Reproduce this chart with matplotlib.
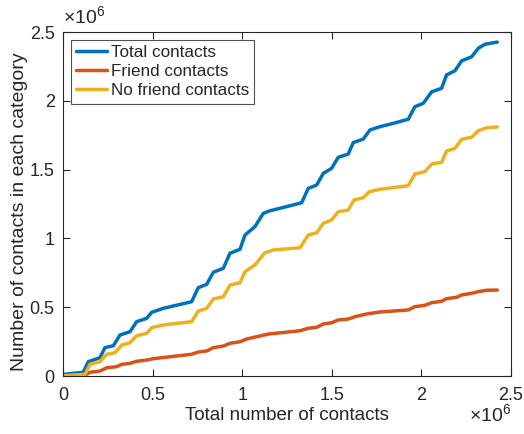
import numpy as np
import matplotlib
matplotlib.use("Agg")
import matplotlib.pyplot as plt
from matplotlib.ticker import FuncFormatter

plt.rcParams['font.family'] = ['Liberation Sans', 'DejaVu Sans']
plt.rcParams['mathtext.fontset'] = 'custom'
plt.rcParams['mathtext.rm'] = 'Liberation Sans'

# values in millions of contacts
total_x = [0.002, 0.113, 0.141, 0.206, 0.234, 0.281, 0.318, 0.374, 0.411, 0.467,
           0.495, 0.560, 0.616, 0.718, 0.755, 0.802, 0.839, 0.895, 0.932, 0.988,
           1.016, 1.071, 1.118, 1.155, 1.211, 1.332, 1.369, 1.416, 1.453, 1.499,
           1.536, 1.592, 1.620, 1.676, 1.713, 1.769, 1.843, 1.927, 1.964, 2.011,
           2.058, 2.113, 2.141, 2.188, 2.225, 2.281, 2.318, 2.355, 2.424]
total_y = [0.012, 0.027, 0.104, 0.133, 0.206, 0.220, 0.298, 0.322, 0.395, 0.419,
           0.463, 0.492, 0.509, 0.540, 0.642, 0.666, 0.754, 0.783, 0.892, 0.921,
           1.025, 1.085, 1.182, 1.201, 1.219, 1.259, 1.364, 1.388, 1.473, 1.509,
           1.589, 1.613, 1.696, 1.722, 1.788, 1.812, 1.836, 1.866, 1.957, 1.982,
           2.066, 2.091, 2.188, 2.219, 2.291, 2.320, 2.382, 2.411, 2.427]

friend_x = [0.002, 0.123, 0.151, 0.206, 0.244, 0.300, 0.328, 0.374, 0.411, 0.467,
            0.504, 0.718, 0.755, 0.802, 0.839, 0.895, 0.932, 0.988, 1.025, 1.099,
            1.146, 1.323, 1.369, 1.416, 1.453, 1.499, 1.536, 1.592, 1.629, 1.695,
            1.769, 1.927, 1.964, 2.020, 2.058, 2.113, 2.141, 2.197, 2.225, 2.281,
            2.318, 2.364, 2.424]
friend_y = [0.002, 0.007, 0.027, 0.036, 0.060, 0.068, 0.085, 0.092, 0.107, 0.116,
            0.126, 0.158, 0.174, 0.182, 0.206, 0.218, 0.238, 0.249, 0.269, 0.291,
            0.305, 0.329, 0.347, 0.354, 0.378, 0.387, 0.407, 0.414, 0.431, 0.451,
            0.465, 0.480, 0.504, 0.514, 0.533, 0.543, 0.562, 0.572, 0.589, 0.601,
            0.613, 0.623, 0.625]

nofriend_x = [0.002, 0.123, 0.151, 0.206, 0.244, 0.290, 0.328, 0.374, 0.411, 0.467,
              0.495, 0.560, 0.718, 0.755, 0.802, 0.839, 0.895, 0.932, 0.988, 1.016,
              1.071, 1.127, 1.174, 1.323, 1.369, 1.416, 1.453, 1.499, 1.536, 1.592,
              1.624, 1.676, 1.709, 1.769, 1.927, 1.964, 2.020, 2.058, 2.113, 2.141,
              2.188, 2.225, 2.281, 2.318, 2.364, 2.424]
nofriend_y = [0.002, 0.012, 0.085, 0.104, 0.158, 0.169, 0.225, 0.242, 0.293, 0.310,
              0.351, 0.371, 0.395, 0.472, 0.492, 0.560, 0.576, 0.661, 0.678, 0.758,
              0.807, 0.896, 0.916, 0.932, 1.025, 1.041, 1.110, 1.134, 1.194, 1.206,
              1.279, 1.296, 1.339, 1.357, 1.383, 1.468, 1.485, 1.541, 1.553, 1.635,
              1.655, 1.720, 1.735, 1.783, 1.804, 1.810]

labels = ['Total contacts', 'Friend contacts', 'No friend contacts']
colors = ['#0072BD', '#D95319', '#EDB120']

fig = plt.figure(figsize=(5.24, 4.34), dpi=100)
ax = fig.add_axes([0.1202, 0.1336, 0.8548, 0.7926])

series = [(total_x, total_y), (friend_x, friend_y), (nofriend_x, nofriend_y)]
for (xs, ys), lab, c in zip(series, labels, colors):
    ax.plot(np.array(xs) * 1e6, np.array(ys) * 1e6, color=c, lw=2.5,
            label=lab, solid_joinstyle='round', solid_capstyle='round')

ax.set_xlim(0, 2.5e6)
ax.set_ylim(0, 2.5e6)
ticks = np.arange(0, 2.51e6, 0.5e6)
ax.set_xticks(ticks)
ax.set_yticks(ticks)
fmt = FuncFormatter(lambda v, p: '%g' % (v / 1e6))
ax.xaxis.set_major_formatter(fmt)
ax.yaxis.set_major_formatter(fmt)

axcol = '#262626'
for s in ax.spines.values():
    s.set_color(axcol)
    s.set_linewidth(0.8)
ax.tick_params(direction='in', length=5, width=0.8, colors=axcol,
               labelsize=13, top=True, right=True)
ax.tick_params(axis='x', pad=8)
ax.tick_params(axis='y', pad=6)

ax.set_xlabel('Total number of contacts', fontsize=13.5, color=axcol, labelpad=2)
ax.set_ylabel('Number of contacts in each category', fontsize=14, color=axcol)
ax.yaxis.set_label_coords(-0.078, 0.477)

ax.text(0.0, 1.01, r'$\times10^{6}$', transform=ax.transAxes, ha='left', va='bottom',
        fontsize=14, color=axcol)
ax.text(1.0, -0.08, r'$\times10^{6}$', transform=ax.transAxes, ha='right', va='top',
        fontsize=14, color=axcol)

leg = ax.legend(loc='upper left', fontsize=12.3, frameon=True, fancybox=False,
                borderaxespad=0.45, handlelength=1.8, handletextpad=0.25,
                labelspacing=0.25, borderpad=0.3)
leg.get_frame().set_edgecolor(axcol)
leg.get_frame().set_linewidth(0.8)
for t in leg.get_texts():
    t.set_color(axcol)

fig.savefig('out.png', dpi=100)
